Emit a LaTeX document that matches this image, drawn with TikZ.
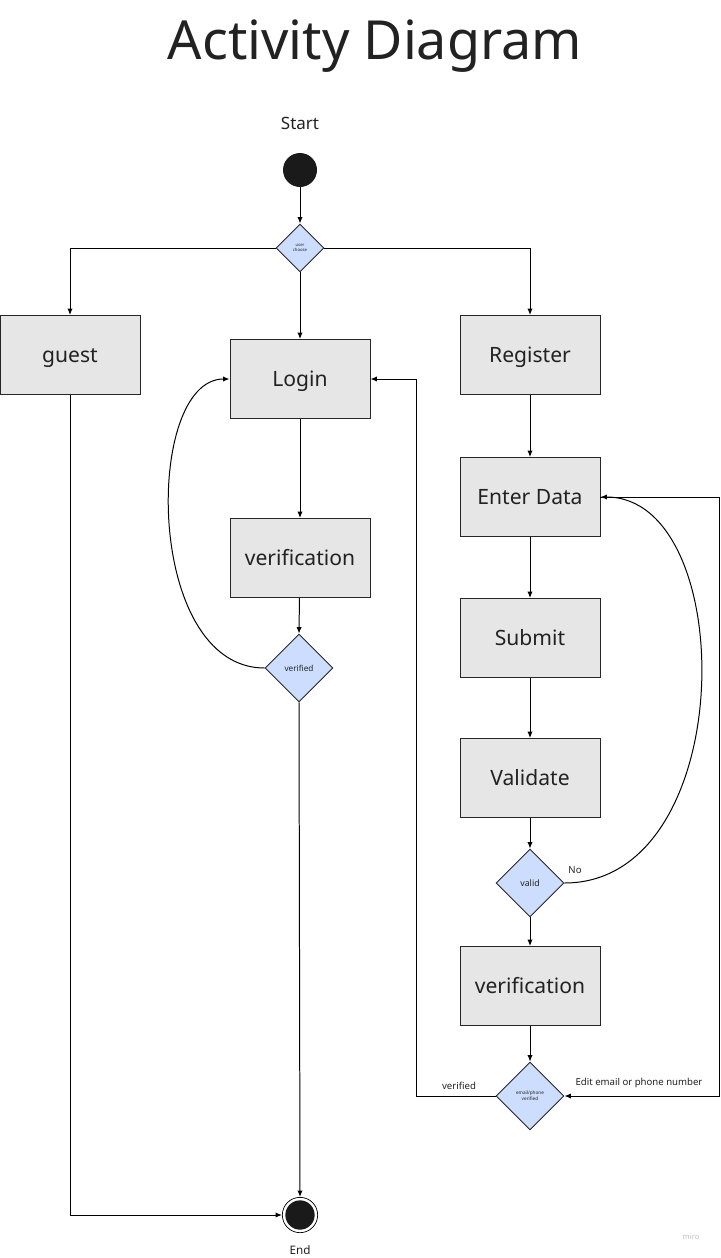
\documentclass[tikz,border=0pt]{standalone}
\usepackage{fontspec}
\setmainfont{Noto Sans}
\usetikzlibrary{arrows.meta,calc,shapes.geometric}
\definecolor{boxgray}{HTML}{E6E6E6}
\definecolor{choiceblue}{HTML}{CCDDFE}
\definecolor{dotblack}{HTML}{1A1A1A}
\definecolor{inkgray}{HTML}{222222}
\tikzset{
  flow/.style={-{Latex[length=5.5pt,width=4.5pt]}, line width=0.85pt},
  box/.style={rectangle, draw=black!85, fill=boxgray, line width=0.8pt, text=inkgray,
    minimum width=4.2cm, minimum height=2.37cm, text height=13.4pt, text depth=0pt,
    font=\fontsize{18}{21}\selectfont},
  choice/.style={diamond, draw=black!85, fill=choiceblue, line width=0.8pt,
    inner sep=0pt, minimum width=2.04cm, minimum height=2.04cm, text=inkgray,
    font=\fontsize{7}{8}\selectfont},
  startdot/.style={circle, fill=dotblack, minimum size=1.02cm, inner sep=0pt},
  enddot/.style={circle, draw=black, fill=white, line width=0.6pt, minimum size=1.06cm,
    inner sep=0pt, path picture={\fill[dotblack] (path picture bounding box.center) circle (0.44cm);}},
  small label/.style={font=\fontsize{8.2}{10}\selectfont, text=inkgray},
}

\begin{document}
\begin{tikzpicture}[x=0.03cm, y=-0.03cm]
  \useasboundingbox (0,0) rectangle (720,1258);

  % Title
  \node[text=inkgray] (title) at (375,46) {\fontsize{46}{55}\selectfont Activity Diagram};

  % Start and first choice
  \node[font=\fontsize{14.5}{16}\selectfont, text=inkgray] (startlabel) at (300,123) {Start};
  \node[startdot] (start) at (300,170) {};
  \node[choice, minimum width=1.44cm, minimum height=1.44cm,
        font=\fontsize{3.6}{4.4}\selectfont, align=center] (usr) at (300,248) {user\\choose};

  % Left and middle column
  \node[box] (guest) at (70,355) {guest};
  \node[box] (login) at (300,379) {Login};
  \node[box] (verifyL) at (300,558) {verification};
  \node[choice] (verified) at (299,668) {verified};

  % Right column
  \node[box] (register) at (530,355) {Register};
  \node[box] (enter) at (530,497) {Enter Data};
  \node[box] (submit) at (530,638) {Submit};
  \node[box] (validate) at (530,778) {Validate};
  \node[choice, font=\fontsize{7.5}{9}\selectfont] (valid) at (530,883) {valid};
  \node[box] (verifyR) at (530,986) {verification};
  \node[choice, font=\fontsize{4}{5}\selectfont, align=center] (mail) at (530,1096) {email/phone\\verified};

  % End
  \node[enddot] (finish) at (300,1215) {};
  \node[font=\fontsize{10}{12}\selectfont, text=inkgray] (endlabel) at (300,1250) {End};

  % Connectors
  \coordinate (bendL) at (416,1096);
  \coordinate (bendR) at (719,497);
  \draw[flow] (start) -- (usr.north);
  \draw[flow] (usr.west) -| (guest.north);
  \draw[flow] (usr.south) -- (login.north);
  \draw[flow] (usr.east) -| (register.north);
  \draw[flow] (guest.south) |- (finish.west);
  \draw[flow] (login) -- (verifyL);
  \draw[flow] (verifyL) -- (verified.north);
  \draw[flow] (verified.west) .. controls (144,668) and (144,379) .. (login.west);
  \draw[flow] (verified.south) -- (finish.north);
  \draw[flow] (register) -- (enter);
  \draw[flow] (enter) -- (submit);
  \draw[flow] (submit) -- (validate);
  \draw[flow] (validate) -- (valid.north);
  \draw[flow] (valid.east) .. controls (740,883) and (740,497) .. (enter.east);
  \draw[flow] (valid.south) -- (verifyR);
  \draw[flow] (verifyR) -- (mail.north);
  \draw[flow] (mail.west) -- (bendL) |- (login.east);
  \draw[flow] (enter.east) -- (bendR) |- (mail.east);

  % Labels
  \node[small label] (nolabel) at (575,870) {No};
  \node[small label] (oklabel) at (459,1086) {verified};
  \node[small label] (editlabel) at (639,1083) {Edit email or phone number};
  \node[font=\fontsize{6.5}{8}\selectfont, text=black!25] (brand) at (691,1237) {miro};
\end{tikzpicture}
\end{document}
